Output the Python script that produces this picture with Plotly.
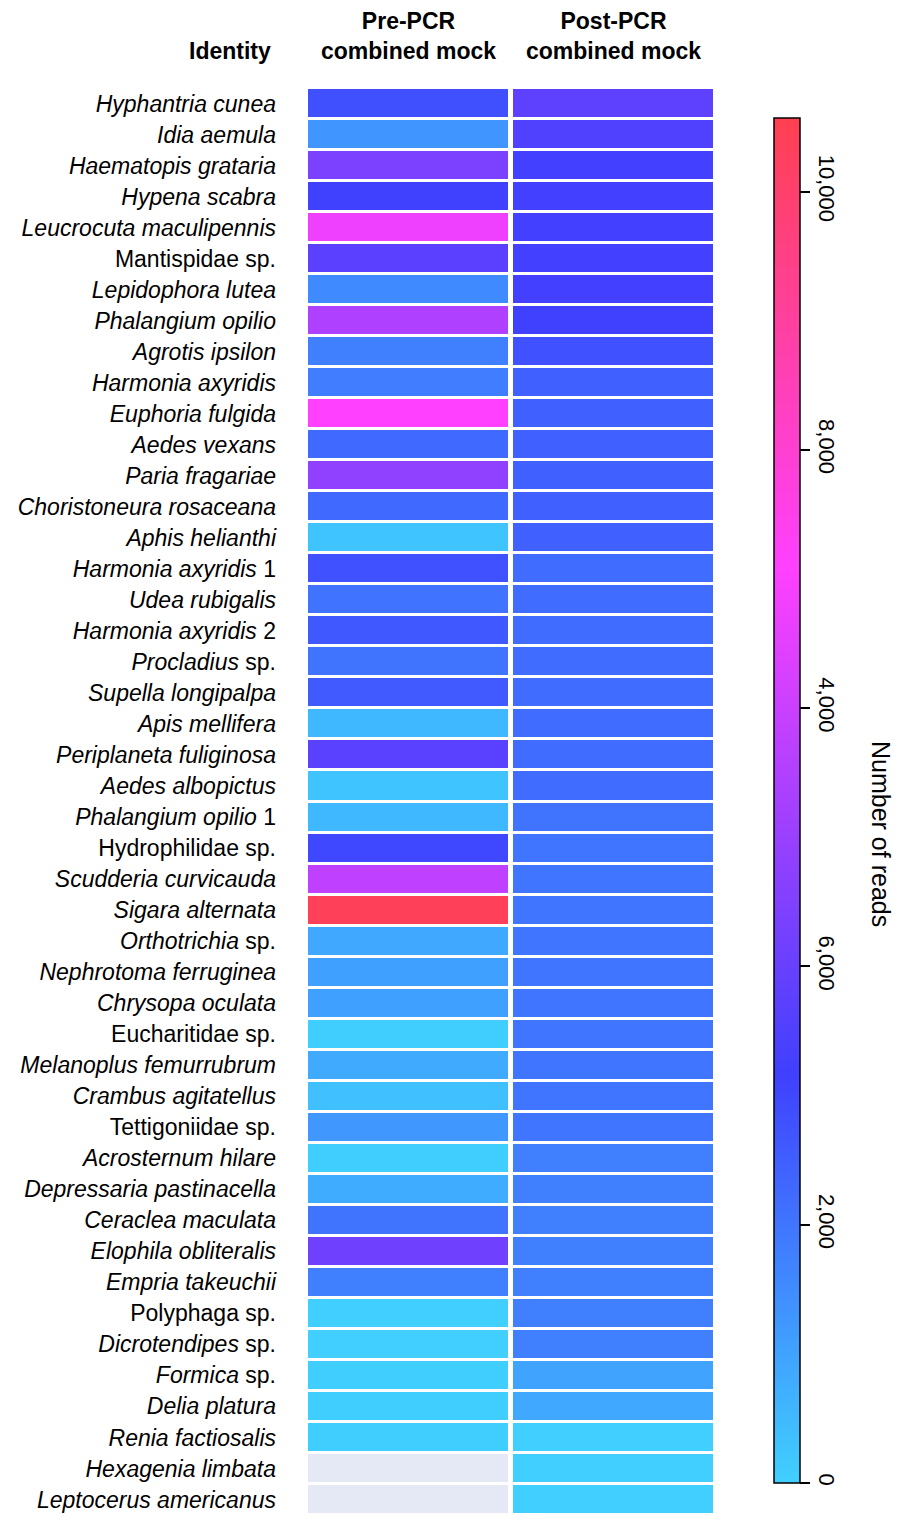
import plotly.graph_objects as go

# ---------------- data ----------------
species = [
    "<i>Hyphantria cunea</i>", "<i>Idia aemula</i>", "<i>Haematopis grataria</i>",
    "<i>Hypena scabra</i>", "<i>Leucrocuta maculipennis</i>", "Mantispidae sp.",
    "<i>Lepidophora lutea</i>", "<i>Phalangium opilio</i>", "<i>Agrotis ipsilon</i>",
    "<i>Harmonia axyridis</i>", "<i>Euphoria fulgida</i>", "<i>Aedes vexans</i>",
    "<i>Paria fragariae</i>", "<i>Choristoneura rosaceana</i>", "<i>Aphis helianthi</i>",
    "<i>Harmonia axyridis</i> 1", "<i>Udea rubigalis</i>", "<i>Harmonia axyridis</i> 2",
    "<i>Procladius</i> sp.", "<i>Supella longipalpa</i>", "<i>Apis mellifera</i>",
    "<i>Periplaneta fuliginosa</i>", "<i>Aedes albopictus</i>", "<i>Phalangium opilio</i> 1",
    "Hydrophilidae sp.", "<i>Scudderia curvicauda</i>", "<i>Sigara alternata</i>",
    "<i>Orthotrichia</i> sp.", "<i>Nephrotoma ferruginea</i>", "<i>Chrysopa oculata</i>",
    "Eucharitidae sp.", "<i>Melanoplus femurrubrum</i>", "<i>Crambus agitatellus</i>",
    "Tettigoniidae sp.", "<i>Acrosternum hilare</i>", "<i>Depressaria pastinacella</i>",
    "<i>Ceraclea maculata</i>", "<i>Elophila obliteralis</i>", "<i>Empria takeuchii</i>",
    "Polyphaga sp.", "<i>Dicrotendipes</i> sp.", "<i>Formica</i> sp.",
    "<i>Delia platura</i>", "<i>Renia factiosalis</i>", "<i>Hexagenia limbata</i>",
    "<i>Leptocerus americanus</i>",
]

pre_reads = [
    2820, 1300, 4400, 3150, 6770, 3740, 1540, 5460, 1760, 1830,
    7100, 2240, 4810, 2240, 264, 2770, 2050, 2640, 2030, 2600,
    530, 3700, 264, 530, 2990, 5790, 10410, 880, 1056, 1056,
    40, 836, 352, 1230, 50, 790, 2030, 4150, 1760, 30,
    30, 40, 40, 40, None, None,
]

post_reads = [
    3780, 3500, 3250, 3250, 3250, 3250, 3230, 3150, 2780, 2460,
    2460, 2460, 2460, 2460, 2460, 2200, 2200, 2200, 2200, 2200,
    2200, 2200, 2200, 2030, 1980, 1980, 1980, 1980, 1980, 1980,
    1980, 1980, 1980, 1980, 1760, 1760, 1760, 1760, 1760, 1760,
    1760, 970, 880, 30, 20, 15,
]

columns = ["<b>Pre-PCR<br>combined mock</b>", "<b>Post-PCR<br>combined mock</b>"]
row_title = "<b>Identity</b>"
cbar_title = "Number of reads"
cbar_tickvals = [0, 2000, 4000, 6000, 8000, 10000]
cbar_ticktext = ["0", "2,000", "6,000", "4,000", "8,000", "10,000"]
z_max = 10570

# ---------------- figure ----------------
# The page body adds an 8 px offset; figure coordinates below are page pixels - 8.
W, H = 907, 1515
ML, MR, MT, MB = 298, 199, 80, 8
PW, PH = W - ML - MR, H - MT - MB
OFF = 8

rows = list(range(len(species)))
z = [[p, q] for p, q in zip(pre_reads, post_reads)]
missing = [[1 if p is None else None, None] for p in pre_reads]

colorscale = [
    [0.0, "rgb(64,208,255)"],
    [0.30, "rgb(64,64,255)"],
    [0.67, "rgb(255,64,255)"],
    [1.0, "rgb(255,64,80)"],
]

FONT = "Liberation Sans, Arial, Helvetica, sans-serif"

fig = go.Figure()

fig.add_trace(go.Heatmap(
    z=missing, x=[0, 1], y=rows,
    colorscale=[[0, "#e5e9f6"], [1, "#e5e9f6"]],
    showscale=False, xgap=5, ygap=3, hoverinfo="skip",
))

fig.add_trace(go.Heatmap(
    z=z, x=[0, 1], y=rows,
    colorscale=colorscale, zmin=0, zmax=z_max,
    xgap=5, ygap=3,
    colorbar=dict(
        x=(774 - OFF - ML) / PW, xanchor="left",
        y=(H - MB - (800.5 - OFF)) / PH, yanchor="middle",
        len=1365, lenmode="pixels", thickness=26, thicknessmode="pixels",
        outlinewidth=1.5, outlinecolor="black",
        ticks="outside", ticklen=10, tickwidth=2, tickcolor="black",
        tickvals=cbar_tickvals, ticktext=cbar_ticktext,
        tickangle=90,
        tickfont=dict(family=FONT, size=22, color="black"),
        xpad=0, ypad=0,
    ),
))

fig.update_xaxes(
    side="top", tickvals=[0, 1], ticktext=columns,
    showgrid=False, zeroline=False, showline=False, ticks="",
    tickfont=dict(family=FONT, size=23, color="black"),
    range=[-0.5, 1.5], ticklabelstandoff=23, automargin=False,
)
fig.update_yaxes(
    tickvals=rows, ticktext=species, autorange="reversed",
    showgrid=False, zeroline=False, showline=False, ticks="",
    tickfont=dict(family=FONT, size=23, color="black"),
    ticklabelstandoff=29, automargin=False,
)

fig.add_annotation(
    text=row_title, xref="paper", yref="paper",
    x=(273 - OFF - ML) / PW, y=1 + (MT - (51 - OFF)) / PH,
    xanchor="right", yanchor="middle", showarrow=False,
    font=dict(family=FONT, size=23, color="black"),
)
fig.add_annotation(
    text=cbar_title, xref="paper", yref="paper",
    x=(881 - OFF - ML) / PW, y=(H - MB - (834 - OFF)) / PH,
    xanchor="center", yanchor="middle", textangle=90, showarrow=False,
    font=dict(family=FONT, size=25, color="black"),
)

fig.update_layout(
    width=W, height=H,
    margin=dict(l=ML, r=MR, t=MT, b=MB, autoexpand=False),
    plot_bgcolor="white", paper_bgcolor="white",
    font=dict(family=FONT, color="black"),
)

fig.write_html("out.html")
